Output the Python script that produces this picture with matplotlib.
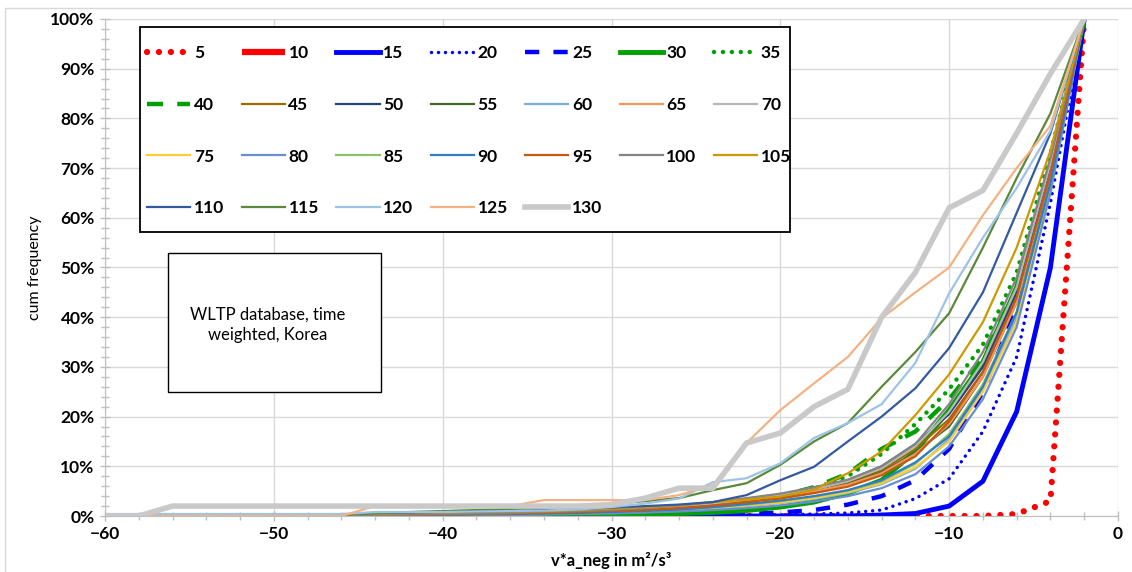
import matplotlib
matplotlib.use("Agg")
import matplotlib.pyplot as plt
from matplotlib.patches import Rectangle
from matplotlib.ticker import MultipleLocator, PercentFormatter

plt.rcParams['font.family'] = ['Lato', 'DejaVu Sans']

# x positions (v*a_neg bins), from -60 to -2
x = [-60, -58, -56, -54, -52, -50, -48, -46, -44, -42, -40, -38, -36, -34, -32,
     -30, -28, -26, -24, -22, -20, -18, -16, -14, -12, -10, -8, -6, -4, -2]

labels = ['5', '10', '15', '20', '25', '30', '35', '40', '45', '50', '55', '60', '65',
          '70', '75', '80', '85', '90', '95', '100', '105', '110', '115', '120', '125', '130']

# cum frequency in %
s5 = [0, 0, 0, 0, 0, 0, 0, 0, 0, 0, 0, 0, 0, 0, 0, 0, 0, 0, 0, 0, 0, 0, 0, 0, 0, 0, 0, 0.4, 3, 100]
s10 = []
s15 = [0, 0, 0, 0, 0, 0, 0, 0, 0, 0, 0, 0, 0, 0, 0, 0, 0, 0, 0, 0, 0, 0, 0, 0.2, 0.5, 2, 7, 21, 50, 100]
s20 = [0, 0, 0, 0, 0, 0, 0, 0, 0, 0, 0, 0, 0, 0, 0, 0, 0, 0, 0, 0, 0.2, 0.4, 0.6, 1.2, 3.5, 7.5, 17, 32, 63, 100]
s25 = [0, 0, 0, 0, 0, 0, 0, 0, 0, 0, 0, 0, 0, 0, 0, 0, 0.1, 0.2, 0.3, 0.4, 0.7, 1.2, 2.3, 4, 7.2, 13.5, 25, 42, 69, 100]
s30 = [0, 0, 0, 0, 0, 0, 0, 0, 0, 0, 0, 0, 0, 0, 0.1, 0.2, 0.3, 0.5, 0.7, 1.1, 1.8, 2.8, 4.6, 7.2, 13, 21.3, 31, 46, 70, 100]
s35 = [0, 0, 0, 0, 0, 0, 0, 0, 0, 0, 0, 0, 0, 0.2, 0.3, 0.5, 0.8, 1.2, 1.8, 2.5, 3.6, 5.5, 8, 12.5, 18.5, 25.5, 34.5, 49, 73, 100]
s40 = [0, 0, 0, 0, 0, 0, 0, 0, 0, 0, 0, 0, 0, 0.2, 0.3, 0.5, 0.8, 1.3, 2, 2.8, 4, 5.8, 8.5, 13.5, 17, 23.5, 32, 46, 71, 100]
s45 = [0, 0, 0, 0, 0, 0, 0, 0.1, 0.2, 0.2, 0.3, 0.4, 0.5, 0.6, 0.8, 1.0, 1.3, 1.7, 2.3, 3.0, 3.8, 5.0, 6.6, 9.2, 13.5, 19.5, 29, 44, 69, 100]
s50 = [0, 0, 0, 0, 0, 0, 0, 0.1, 0.2, 0.3, 0.4, 0.5, 0.6, 0.8, 1.0, 1.2, 1.5, 2.0, 2.6, 3.4, 4.3, 5.6, 7.2, 10, 14.5, 20.5, 30, 45, 70, 100]
s55 = [0, 0, 0, 0, 0, 0, 0, 0.1, 0.1, 0.2, 0.3, 0.4, 0.5, 0.6, 0.8, 1.0, 1.3, 1.8, 2.4, 3.1, 3.9, 5.0, 6.4, 8.8, 12.8, 18, 28, 43, 68, 100]
s60 = [0, 0, 0, 0, 0, 0, 0, 0, 0.1, 0.1, 0.2, 0.2, 0.3, 0.4, 0.5, 0.6, 0.8, 1.1, 1.5, 2.0, 2.6, 3.4, 4.6, 6.4, 9.5, 15.5, 25.5, 40, 67, 100]
s65 = [0, 0, 0, 0, 0, 0, 0, 0.1, 0.2, 0.3, 0.4, 0.5, 0.6, 0.7, 0.9, 1.1, 1.4, 1.9, 2.5, 3.2, 4.0, 5.0, 6.3, 8.6, 12.5, 18.5, 28, 43, 69, 100]
s70 = [0, 0, 0, 0, 0, 0, 0, 0.1, 0.2, 0.3, 0.4, 0.5, 0.6, 0.8, 1.0, 1.3, 1.6, 2.0, 2.6, 3.3, 4.2, 5.4, 7.0, 9.6, 14, 21, 31, 46, 71, 100]
s75 = [0, 0, 0, 0, 0, 0, 0, 0, 0.1, 0.1, 0.2, 0.3, 0.3, 0.4, 0.5, 0.7, 0.9, 1.2, 1.6, 2.1, 2.7, 3.6, 4.8, 6.6, 9.8, 15, 25, 39, 66, 100]
s80 = [0, 0, 0, 0, 0, 0, 0, 0, 0, 0.1, 0.1, 0.2, 0.2, 0.3, 0.4, 0.5, 0.7, 0.9, 1.2, 1.6, 2.1, 2.9, 4.0, 5.6, 8.4, 14, 23.5, 38, 65, 100]
s85 = [0, 0, 0, 0, 0, 0, 0, 0, 0.1, 0.1, 0.2, 0.3, 0.4, 0.5, 0.6, 0.8, 1.0, 1.3, 1.7, 2.3, 3.0, 3.9, 5.1, 7.0, 10.5, 16.5, 26.5, 41, 67, 100]
s90 = [0, 0, 0, 0, 0, 0, 0, 0, 0.1, 0.2, 0.2, 0.3, 0.4, 0.5, 0.6, 0.8, 1.0, 1.3, 1.8, 2.4, 3.1, 4.0, 5.2, 7.2, 10.8, 16, 26, 41, 67, 100]
s95 = [0, 0, 0, 0, 0, 0, 0, 0.1, 0.2, 0.2, 0.3, 0.4, 0.5, 0.6, 0.8, 1.0, 1.2, 1.6, 2.1, 2.8, 3.5, 4.6, 5.9, 8.2, 12, 19, 29, 44, 69, 100]
s100 = [0, 0, 0, 0, 0, 0, 0, 0.1, 0.2, 0.3, 0.4, 0.5, 0.6, 0.8, 1.0, 1.2, 1.6, 2.1, 2.8, 3.6, 4.5, 5.8, 7.3, 10, 14.5, 22.5, 33, 48, 72, 100]
s105 = [0, 0, 0, 0, 0, 0, 0, 0.3, 0.5, 0.6, 0.7, 0.8, 0.9, 1.0, 1.2, 1.5, 1.8, 2.2, 2.8, 3.3, 3.9, 5.3, 8.6, 13, 20.3, 28.5, 39, 54, 73.5, 100]
s110 = [0, 0, 0, 0, 0, 0, 0, 0.3, 0.6, 0.7, 0.8, 0.9, 1.0, 1.2, 1.4, 1.7, 2.0, 2.3, 2.8, 4.2, 7.2, 9.9, 15, 20, 25.7, 33.8, 45, 61, 77, 100]
s115 = [0, 0, 0, 0, 0, 0, 0, 0.3, 0.6, 0.8, 1.0, 1.2, 1.4, 1.7, 2.0, 2.4, 3.0, 3.6, 5.2, 6.6, 10.3, 15, 18.7, 26, 33, 40.8, 54, 68, 81, 100]
s120 = [0.4, 0.4, 0.4, 0.4, 0.4, 0.4, 0.4, 0.4, 0.8, 0.8, 0.8, 0.9, 1.0, 1.1, 1.3, 1.8, 2.5, 3.5, 6.8, 7.6, 10.6, 15.7, 18.7, 22.5, 30.8, 44.8, 56, 66, 77.5, 100]
s125 = [0, 0, 0, 0, 0, 0, 0, 0, 2, 2, 2, 2, 2, 3.2, 3.2, 3.2, 3.2, 4.2, 6.2, 14.7, 21.3, 26.7, 32, 39.8, 45, 50, 60.5, 70, 78.5, 100]
s130 = [0, 0, 2, 2, 2, 2, 2, 2, 2, 2, 2, 2, 2, 2, 2, 2.3, 3.6, 5.6, 5.6, 14.7, 16.7, 22, 25.5, 40, 49, 62, 65.5, 77, 89, 100]

series = [s5, s10, s15, s20, s25, s30, s35, s40, s45, s50, s55, s60, s65,
          s70, s75, s80, s85, s90, s95, s100, s105, s110, s115, s120, s125, s130]

dot = (0, (0.01, 1.9))
styles = [
    dict(color='#FF0000', lw=4.5, ls=dot, dash_capstyle='round'),
    dict(color='#FF0000', lw=4.5, solid_capstyle='butt'),
    dict(color='#0000FF', lw=3.5),
    dict(color='#0000FF', lw=2.5, ls=(0, (0.01, 2.0)), dash_capstyle='round'),
    dict(color='#0000FF', lw=3.2, ls=(0, (3.2, 3.2))),
    dict(color='#00A000', lw=3.5),
    dict(color='#00A000', lw=3.2, ls=(0, (0.01, 2.0)), dash_capstyle='round'),
    dict(color='#00A000', lw=3.2, ls=(0, (3.6, 3.2))),
    dict(color='#9C6A00', lw=1.6),
    dict(color='#264478', lw=1.6),
    dict(color='#43682B', lw=1.6),
    dict(color='#7CAFDD', lw=1.6),
    dict(color='#F1975A', lw=1.6),
    dict(color='#B7B7B7', lw=1.6),
    dict(color='#FFCD33', lw=1.6),
    dict(color='#698ED0', lw=1.6),
    dict(color='#8CC168', lw=1.6),
    dict(color='#327DC2', lw=1.6),
    dict(color='#C65911', lw=1.6),
    dict(color='#848484', lw=1.6),
    dict(color='#CC9A00', lw=1.6),
    dict(color='#335AA1', lw=1.6),
    dict(color='#5A8A39', lw=1.6),
    dict(color='#9DC3E6', lw=1.6),
    dict(color='#F4B183', lw=1.6),
    dict(color='#C9C9C9', lw=4.0),
]

fig = plt.figure(figsize=(11.32, 5.72), dpi=100)
ax = fig.add_axes([0.0928, 0.0979, 0.8948, 0.8689])

handles = []
for s, lab, st in zip(series, labels, styles):
    h, = ax.plot(x[:len(s)], s, label=lab, **st)
    handles.append(h)

ax.set_xlim(-60, 0)
ax.set_ylim(0, 100)
ax.xaxis.set_major_locator(MultipleLocator(10))
ax.xaxis.set_minor_locator(MultipleLocator(2))
ax.yaxis.set_major_locator(MultipleLocator(10))
ax.yaxis.set_minor_locator(MultipleLocator(2))
ax.yaxis.set_major_formatter(PercentFormatter(100, decimals=0))
ax.grid(True, which='major', color='#D9D9D9', lw=1)
ax.set_axisbelow(True)
for sp in ['top', 'right']:
    ax.spines[sp].set_visible(False)
for sp in ['left', 'bottom']:
    ax.spines[sp].set_color('#BFBFBF')
ax.tick_params(which='both', direction='inout', color='#BFBFBF', length=7, width=1)
ax.tick_params(which='minor', length=6)
ax.tick_params(axis='both', labelsize=12.5, pad=4)
for t in ax.get_xticklabels() + ax.get_yticklabels():
    t.set_fontweight('bold')

ax.set_xlabel('v*a_neg in m²/s³', fontsize=12, fontweight='bold', labelpad=7)
ax.set_ylabel('cum frequency', fontsize=11.5, labelpad=6)

# legend, filled row by row, with its own frame
ax.add_patch(Rectangle((0.0345, 0.571), 0.6415, 0.413, transform=ax.transAxes,
                       facecolor='white', edgecolor='black', lw=1.3, zorder=4.5))
n = len(handles)
order = []
for c in range(7):
    for r in range(4):
        i = r * 7 + c
        if i < n:
            order.append(i)
leg = ax.legend([handles[i] for i in order], [labels[i] for i in order],
                ncol=7, loc='upper left', bbox_to_anchor=(0.0415, 0.947),
                borderaxespad=0, frameon=False, borderpad=0,
                prop={'weight': 'bold', 'size': 12.5}, handlelength=2.5,
                handletextpad=0.2, columnspacing=1.0, labelspacing=2.05)

# note box
ax.add_patch(Rectangle((0.0622, 0.2495), 0.2103, 0.2795, transform=ax.transAxes,
                       facecolor='white', edgecolor='black', lw=1, zorder=5))
ax.text(0.161, 0.384, 'WLTP database, time\nweighted, Korea', transform=ax.transAxes,
        ha='center', va='center', fontsize=12, linespacing=1.35, zorder=6)

fig.patches.append(Rectangle((5 / 1132, -0.1), 1.2, (572 - 8) / 572 + 0.1,
                             transform=fig.transFigure, fill=False,
                             edgecolor='#D9D9D9', lw=1))

fig.savefig('out.png', dpi=100)
